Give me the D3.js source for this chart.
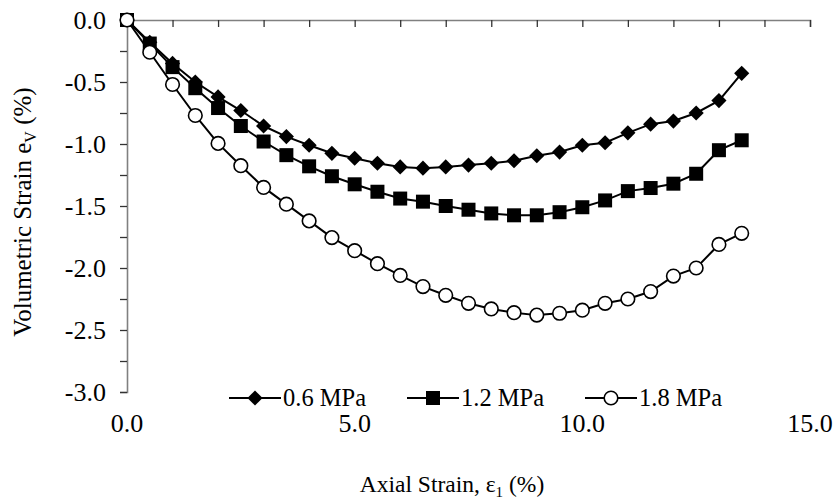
<!DOCTYPE html>
<html><head><meta charset="utf-8">
<script src="https://cdn.jsdelivr.net/npm/d3@7"></script>
<style>body{margin:0;background:#fff}</style>
</head><body>
<svg id="c" width="837" height="499"></svg>
<script>
const axialStrain = [0,0.5,1,1.5,2,2.5,3,3.5,4,4.5,5,5.5,6,6.5,7,7.5,8,8.5,9,9.5,10,10.5,11,11.5,12,12.5,13,13.5];
const series06 = [0,-0.18,-0.35,-0.50,-0.62,-0.73,-0.855,-0.94,-1.01,-1.075,-1.115,-1.155,-1.185,-1.195,-1.185,-1.17,-1.155,-1.135,-1.095,-1.065,-1.01,-0.99,-0.91,-0.84,-0.815,-0.75,-0.65,-0.43];
const series12 = [0,-0.19,-0.38,-0.55,-0.71,-0.855,-0.98,-1.09,-1.18,-1.26,-1.325,-1.385,-1.44,-1.465,-1.50,-1.53,-1.56,-1.575,-1.575,-1.55,-1.51,-1.455,-1.38,-1.355,-1.32,-1.24,-1.05,-0.97];
const series18 = [0,-0.26,-0.52,-0.77,-0.995,-1.175,-1.35,-1.485,-1.62,-1.755,-1.86,-1.965,-2.06,-2.15,-2.22,-2.285,-2.33,-2.36,-2.38,-2.365,-2.34,-2.285,-2.25,-2.19,-2.065,-2.00,-1.81,-1.72];
const seriesNames = ["0.6 MPa","1.2 MPa","1.8 MPa"];
const xTicks = [0,5,10,15];
const yTicks = [0,-0.5,-1,-1.5,-2,-2.5,-3];

const FONT = "'Liberation Serif', 'DejaVu Serif', 'Times New Roman', serif";
const svg = d3.select("#c");
const x = d3.scaleLinear().domain([0,15]).range([127,810]);
const y = d3.scaleLinear().domain([0,-3]).range([20,392]);

const xAxisG = svg.append("g").attr("transform","translate(0,"+y(0)+")")
  .call(d3.axisBottom(x).tickValues(d3.range(0,16,1)).tickSize(7).tickFormat(""));
const yAxisG = svg.append("g").attr("transform","translate("+x(0)+",0)")
  .call(d3.axisLeft(y).tickValues(d3.range(0,-3.01,-0.25)).tickSize(7).tickFormat(""));
[xAxisG,yAxisG].forEach(g=>{
  g.select(".domain").attr("stroke","#808080").attr("stroke-width",1.6);
  g.selectAll(".tick line").attr("stroke","#333").attr("stroke-width",1.3);
});

function T(sel){ return sel.attr("font-family",FONT).attr("fill","#000"); }

T(svg.append("g").selectAll("text").data(yTicks).join("text"))
  .attr("x",106).attr("y",d=>y(d)).attr("dy","0.35em").attr("text-anchor","end")
  .attr("font-size",26).text(d=>d3.format(".1f")(d).replace("−","-"));
T(svg.append("g").selectAll("text").data(xTicks).join("text"))
  .attr("x",d=>x(d)).attr("y",432).attr("text-anchor","middle")
  .attr("font-size",26).text(d=>d3.format(".1f")(d));

const xt = T(svg.append("text")).attr("x",452).attr("y",492).attr("text-anchor","middle").attr("font-size",23.5);
xt.append("tspan").text("Axial Strain, ε");
xt.append("tspan").attr("dy",5).attr("font-size",15).text("1");
xt.append("tspan").attr("dy",-5).text(" (%)");
const yt = T(svg.append("text")).attr("transform","translate(31,212) rotate(-90)").attr("text-anchor","middle").attr("font-size",25);
yt.append("tspan").text("Volumetric Strain e");
yt.append("tspan").attr("dy",5).attr("font-size",16).text("V");
yt.append("tspan").attr("dy",-5).text(" (%)");

const line = d3.line().x(d=>x(d[0])).y(d=>y(d[1]));
const data = [series06,series12,series18].map(s=>axialStrain.map((a,i)=>[a,s[i]]));

function drawMarker(g,k,px,py){
  if(k===0){
    g.append("path").attr("d",d3.symbol().type(d3.symbolSquare).size(115)()).attr("transform","translate("+px+","+py+") rotate(45)").attr("fill","#000");
  } else if(k===1){
    g.append("rect").attr("x",px-7).attr("y",py-7).attr("width",14).attr("height",14).attr("fill","#000");
  } else {
    g.append("circle").attr("cx",px).attr("cy",py).attr("r",6.8).attr("fill","#fff").attr("stroke","#000").attr("stroke-width",1.6);
  }
}

data.forEach((d,k)=>{
  const g = svg.append("g");
  g.append("path").datum(d).attr("d",line).attr("fill","none").attr("stroke","#000").attr("stroke-width",2);
  d.forEach(p=>drawMarker(g,k,x(p[0]),y(p[1])));
});

const legX = [229,407,585];
seriesNames.forEach((n,k)=>{
  const g = svg.append("g");
  const ly = 398;
  g.append("line").attr("x1",legX[k]).attr("x2",legX[k]+52).attr("y1",ly).attr("y2",ly).attr("stroke","#000").attr("stroke-width",2);
  drawMarker(g,k,legX[k]+26,ly);
  T(g.append("text")).attr("x",legX[k]+54).attr("y",ly).attr("dy","0.33em").attr("font-size",24.5).text(n);
});
</script>
</body></html>
